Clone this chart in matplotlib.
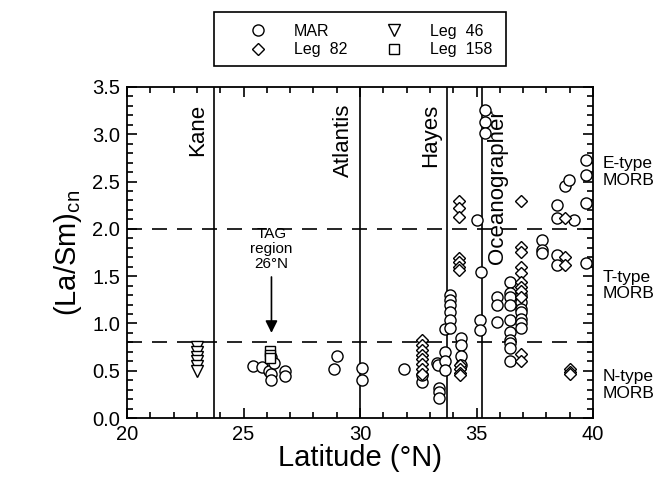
import matplotlib
matplotlib.use("Agg")
import matplotlib.pyplot as plt
from matplotlib.lines import Line2D
from matplotlib.patches import Rectangle
from matplotlib.ticker import MultipleLocator

plt.rcParams['font.family'] = ['Liberation Sans', 'DejaVu Sans']
plt.rcParams['mathtext.fontset'] = 'custom'
plt.rcParams['mathtext.rm'] = 'Liberation Sans'

########## data ##########
mar_lat = [25.4, 25.8, 26.1, 26.2, 26.2, 26.2, 26.3, 26.8, 26.8,
           28.9, 29.0, 30.1, 30.1, 31.9, 32.65, 32.65,
           33.3, 33.35, 33.4, 33.4, 33.4,
           33.65, 33.65, 33.65, 33.65,
           33.87, 33.87, 33.87, 33.87, 33.87, 33.87,
           34.35, 34.35, 34.35, 34.35,
           35.0, 35.36, 35.36, 35.36, 35.2, 35.15, 35.15,
           35.9, 35.9, 35.9,
           36.45, 36.45, 36.45, 36.45, 36.45, 36.45, 36.45, 36.45, 36.45, 36.45,
           36.9, 36.9, 36.9, 36.9, 36.9, 36.9, 36.9,
           37.8, 37.8, 37.8,
           38.45, 38.45, 38.45, 38.45,
           38.8, 38.95, 39.2,
           39.7, 39.7, 39.7, 39.7]
mar_val = [0.55, 0.54, 0.50, 0.65, 0.47, 0.40, 0.58, 0.50, 0.44,
           0.52, 0.66, 0.53, 0.40, 0.52, 0.38, 0.45,
           0.58, 0.56, 0.32, 0.27, 0.21,
           0.70, 0.60, 0.51, 0.94,
           1.30, 1.25, 1.20, 1.12, 1.04, 0.95,
           0.85, 0.77, 0.66, 0.56,
           2.09, 3.26, 3.13, 3.01, 1.54, 1.04, 0.93,
           1.28, 1.19, 1.02,
           1.44, 1.32, 1.28, 1.19, 1.04, 0.91, 0.82, 0.79, 0.74, 0.60,
           1.30, 1.23, 1.15, 1.12, 1.05, 1.00, 0.95,
           1.88, 1.78, 1.74,
           2.25, 2.11, 1.72, 1.62,
           2.45, 2.52, 2.09,
           2.73, 2.57, 2.27, 1.64]

leg82_lat = [32.65] * 8 + [34.25] * 3 + [34.25] * 4 + [34.3] * 4 + [36.9] + [36.9] * 8 + [36.9] * 2 + [38.8] * 3 + [39.0] * 3
leg82_val = [0.82, 0.77, 0.72, 0.67, 0.62, 0.57, 0.52, 0.47,
             2.29, 2.22, 2.13,
             1.69, 1.65, 1.60, 1.56,
             0.56, 0.52, 0.48, 0.45,
             2.29,
             1.81, 1.76, 1.60, 1.53, 1.44, 1.39, 1.34, 1.28,
             0.68, 0.60,
             2.11, 1.70, 1.62,
             0.52, 0.49, 0.46]

leg46_lat = [23.0] * 6
leg46_val = [0.75, 0.70, 0.64, 0.60, 0.55, 0.50]

leg158_lat = [26.15] * 3
leg158_val = [0.71, 0.67, 0.63]

fz_names = ["Kane", "Atlantis", "Hayes", "Oceanographer"]
fz_lat = [23.75, 30.0, 33.75, 35.22]
fz_side = ["left", "left", "left", "right"]

morb_names = ["E-type\nMORB", "T-type\nMORB", "N-type\nMORB"]
morb_y = [2.6, 1.4, 0.35]
morb_bounds = [0.8, 2.0]

########## figure ##########
W, H = 671, 484
fig = plt.figure(figsize=(W / 100, H / 100), dpi=100)
ax = fig.add_axes([127 / W, 1 - 418 / H, 466 / W, 331 / H])

for lat in fz_lat:
    ax.axvline(lat, color='black', lw=1.2)
for yb in morb_bounds:
    ax.axhline(yb, color='black', lw=1.2, ls=(0, (9, 6)))

mk = dict(ls='none', mfc='white', mec='black', mew=1.0)
ax.plot(mar_lat, mar_val, marker='o', ms=8, **mk)
ax.plot(leg82_lat, leg82_val, marker='D', ms=6.3, **mk)
ax.plot(leg46_lat, leg46_val, marker='v', ms=8.5, **mk)
ax.plot(leg158_lat, leg158_val, marker='s', ms=7, **mk)

for name, lat, side in zip(fz_names, fz_lat, fz_side):
    if side == "left":
        ax.text(lat - 0.25, 3.32, name, rotation=90, ha='right', va='top', fontsize=16)
    else:
        ax.text(lat + 0.25, 3.27, name, rotation=90, ha='left', va='top', fontsize=16)

for name, yv in zip(morb_names, morb_y):
    ax.text(1.02, yv / 3.5, name, transform=ax.transAxes, ha='left', va='center',
            fontsize=12.5, linespacing=1.15)

ax.annotate("TAG\nregion\n26\u00b0N", xy=(26.2, 0.9), xytext=(26.2, 1.55),
            ha='center', va='bottom', fontsize=11, linespacing=1.1,
            arrowprops=dict(arrowstyle='-|>', color='black', lw=1.2,
                            mutation_scale=18, shrinkA=2, shrinkB=0))

ax.set_xlim(20, 40)
ax.set_ylim(0, 3.5)
ax.xaxis.set_major_locator(MultipleLocator(5))
ax.xaxis.set_minor_locator(MultipleLocator(1))
ax.yaxis.set_major_locator(MultipleLocator(0.5))
ax.yaxis.set_minor_locator(MultipleLocator(0.1))
ax.yaxis.set_major_formatter(plt.FormatStrFormatter('%.1f'))
ax.tick_params(which='both', direction='in', top=True, right=True, labelsize=14.5, width=1.2)
ax.tick_params(which='major', length=7, pad=5)
ax.tick_params(which='minor', length=4)
for s in ax.spines.values():
    s.set_linewidth(1.3)

ax.set_xlabel("Latitude (\u00b0N)", fontsize=21, labelpad=0)
ax.set_ylabel(r"(La/Sm)$_{\mathrm{cn}}$", fontsize=21, labelpad=6)

########## legend in a plain box above the axes ##########
fig.patches.append(Rectangle((214 / W, 1 - 66 / H), 292 / W, 54 / H, transform=fig.transFigure,
                             fill=False, edgecolor='black', lw=1.2))
handles = [Line2D([], [], marker='o', ms=8, **mk),
           Line2D([], [], marker='D', ms=6.3, **mk),
           Line2D([], [], marker='v', ms=8.5, **mk),
           Line2D([], [], marker='s', ms=7, **mk)]
labels = ["MAR", "Leg  82", "Leg  46", "Leg  158"]
fig.legend(handles, labels, ncol=2, loc='center left', bbox_to_anchor=(246 / W, 1 - 40.5 / H),
           fontsize=11.5, frameon=False, borderpad=0, borderaxespad=0,
           labelspacing=0.2, handlelength=1.5, handletextpad=1.5, columnspacing=2.2)

fig.savefig("out.png", dpi=100)
